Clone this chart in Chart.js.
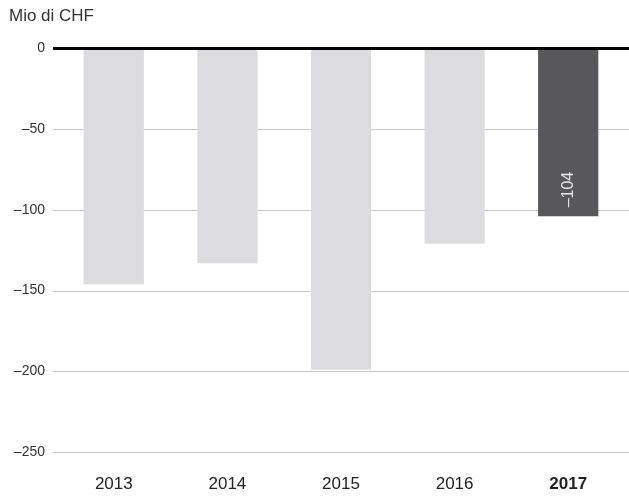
<!DOCTYPE html>
<html>
<head>
<meta charset="utf-8">
<script src="https://cdn.jsdelivr.net/npm/chart.js@4/dist/chart.umd.min.js"></script>
<style>
  body { margin: 0; background: #fff; }
  #wrap { width: 629px; height: 497px; }
</style>
</head>
<body>
<div id="wrap"><canvas id="c"></canvas></div>
<script>
// dati (Mio di CHF)
const years = ['2013', '2014', '2015', '2016', '2017'];
const values = [-146, -133, -199, -121, -104];
const yTicks = [0, -50, -100, -150, -200, -250];
const highlightIndex = 4; // ultimo anno evidenziato
const unitLabel = 'Mio di CHF';

const barColors = years.map((y, i) => i === highlightIndex ? '#58585a' : '#dcdcde');

// meno tipografico
function fmt(v) {
  return v < 0 ? '\u2013' + Math.abs(v) : String(v);
}

// linee della griglia, da un bordo all'altro
const gridPlugin = {
  id: 'gridLines',
  beforeDatasetsDraw(chart) {
    const ctx = chart.ctx;
    const y = chart.scales.y;
    ctx.save();
    y.ticks.forEach(t => {
      if (t.value === 0) return;
      const py = Math.round(y.getPixelForValue(t.value)) + 0.5;
      ctx.strokeStyle = '#c8c8c8';
      ctx.lineWidth = 1;
      ctx.beginPath();
      ctx.moveTo(53, py);
      ctx.lineTo(chart.width, py);
      ctx.stroke();
    });
    ctx.restore();
  },
  afterDatasetsDraw(chart) {
    const ctx = chart.ctx;
    const y = chart.scales.y;
    const py = y.getPixelForValue(0);
    ctx.save();
    ctx.strokeStyle = '#000';
    ctx.lineWidth = 3;
    ctx.beginPath();
    ctx.moveTo(53, py);
    ctx.lineTo(chart.width, py);
    ctx.stroke();

    // etichetta del valore nella barra evidenziata
    const el = chart.getDatasetMeta(0).data[highlightIndex];
    ctx.translate(el.x, el.y - 9);
    ctx.rotate(-Math.PI / 2);
    ctx.fillStyle = '#e6e6e6';
    ctx.font = '16px "Liberation Sans", Arial, sans-serif';
    ctx.textAlign = 'left';
    ctx.textBaseline = 'middle';
    ctx.fillText(fmt(values[highlightIndex]), 0, 0);
    ctx.restore();
  }
};

const ctx = document.getElementById('c').getContext('2d');
new Chart(ctx, {
  type: 'bar',
  data: {
    labels: years,
    datasets: [{
      data: values,
      backgroundColor: barColors,
      borderWidth: 0,
      barPercentage: 0.53,
      categoryPercentage: 1
    }]
  },
  options: {
    responsive: true,
    maintainAspectRatio: false,
    animation: false,
    layout: { padding: { left: 9, right: 4, top: 0, bottom: 0 } },
    plugins: {
      legend: { display: false },
      tooltip: { enabled: false },
      title: {
        display: true,
        text: unitLabel,
        align: 'start',
        color: '#333',
        font: { family: '"Liberation Sans", Arial, sans-serif', size: 17, weight: 'normal' },
        padding: { top: 6, bottom: 22 }
      }
    },
    scales: {
      x: {
        grid: { display: false },
        border: { display: false },
        afterFit(axis) { axis.height = 32; },
        ticks: {
          color: '#222',
          padding: 1,
          font: c => ({
            family: '"Liberation Sans", Arial, sans-serif',
            size: 17,
            weight: c.index === highlightIndex ? 'bold' : 'normal'
          })
        }
      },
      y: {
        min: -258,
        max: 0,
        grid: { display: false },
        border: { display: false },
        afterFit(axis) { axis.width = 48; },
        afterBuildTicks(axis) {
          axis.ticks = yTicks.map(v => ({ value: v }));
        },
        ticks: {
          padding: 4,
          color: '#333',
          font: { family: '"Liberation Sans", Arial, sans-serif', size: 14 },
          callback: v => fmt(v)
        }
      }
    }
  },
  plugins: [gridPlugin]
});
</script>
</body>
</html>
